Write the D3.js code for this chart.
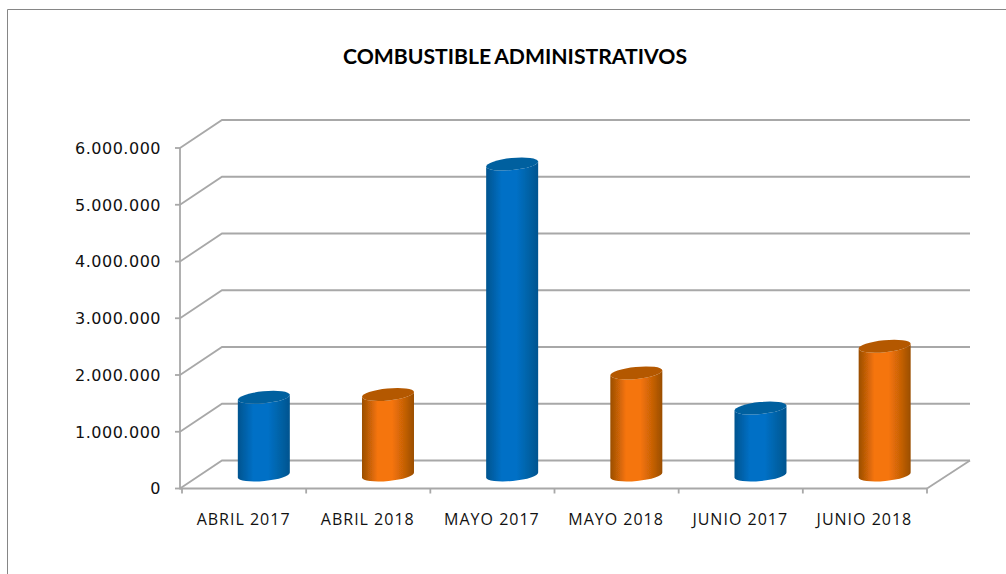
<!DOCTYPE html>
<html><head><meta charset="utf-8">
<script src="https://cdn.jsdelivr.net/npm/d3@7/dist/d3.min.js"></script>
<style>html,body{margin:0;padding:0;background:#fff}svg{display:block}</style></head>
<body><svg id="c" width="1006" height="574"></svg>
<script>
const categories = ["ABRIL 2017","ABRIL 2018","MAYO 2017","MAYO 2018","JUNIO 2017","JUNIO 2018"];
const values = [1370000,1420000,5480000,1800000,1180000,2270000];
const seriesKeys = ["blue","orange","blue","orange","blue","orange"];
const yTicks = [0,1000000,2000000,3000000,4000000,5000000,6000000];
const yTickLabels = ["0","1.000.000","2.000.000","3.000.000","4.000.000","5.000.000","6.000.000"];
const titleText = "COMBUSTIBLE ADMINISTRATIVOS";

const W = 1006, H = 574;
const svg = d3.select("#c");
const x = d3.scaleBand().domain(categories).range([182, 927]);
const y = d3.scaleLinear().domain([0, 6000000]).range([488.5, 148]);
const depthX = 42, depthY = -28;
const midX = depthX * 0.47, midY = depthY * 0.48;
const grid = "#a8a8a8";

const defs = svg.append("defs");
const palette = {
  blue: {edge:"#01548f", mid:"#0070c6", near:"#0163a8", top:"#01609f"},
  orange: {edge:"#9a4e05", mid:"#f57408", near:"#c96206", top:"#b45805"}
};
Object.entries(palette).forEach(([k,c]) => {
  const g = defs.append("linearGradient").attr("id","g-"+k).attr("x1",0).attr("x2",1).attr("y1",0).attr("y2",0);
  [[0,c.edge],[0.3,c.mid],[0.58,c.mid],[0.8,c.near],[1,c.edge]]
    .forEach(([o,col]) => g.append("stop").attr("offset",o).attr("stop-color",col));
});
defs.append("filter").attr("id","soft").append("feGaussianBlur").attr("stdDeviation",0.5);

svg.append("path").attr("d",`M7.5 ${H}V9.5H${W}`).attr("fill","none").attr("stroke","#868686").attr("stroke-width",1);

const plot = svg.append("g").attr("filter","url(#soft)");
yTicks.forEach(t => {
  const fy = y(t), by = fy + depthY;
  plot.append("path").attr("fill","none").attr("stroke",grid).attr("stroke-width",1.8)
    .attr("d",`M180 ${fy}L${180+depthX} ${by}H${927+depthX+1}`);
  plot.append("line").attr("x1",175).attr("x2",180).attr("y1",fy).attr("y2",fy).attr("stroke",grid).attr("stroke-width",1.8);
});
plot.append("line").attr("x1",927).attr("y1",y(0)).attr("x2",927+depthX+1).attr("y2",y(0)+depthY).attr("stroke",grid).attr("stroke-width",1.8);
plot.append("line").attr("x1",180).attr("x2",180).attr("y1",y(6000000)).attr("y2",y(0)+1).attr("stroke",grid).attr("stroke-width",1.8);
plot.append("line").attr("x1",180).attr("x2",927).attr("y1",y(0)).attr("y2",y(0)).attr("stroke",grid).attr("stroke-width",1.8);
const xTickPos = categories.map(c => x(c)).concat([x.range()[1]]);
xTickPos.forEach(p => plot.append("line").attr("x1",p).attr("x2",p).attr("y1",y(0)).attr("y2",y(0)+5).attr("stroke",grid).attr("stroke-width",1.8));

const halfW = 26, tilt = 2.6, ry = 6;
const R = Math.sqrt(halfW*halfW + tilt*tilt);
const rot = -Math.atan2(tilt, halfW) * 180 / Math.PI;
categories.forEach((c,i) => {
  const cx = x(c) + x.bandwidth()/2 + midX;
  const y0 = y(0) + midY, y1 = y(values[i]) + midY;
  const k = seriesKeys[i], col = palette[k];
  const body = `M${cx-halfW} ${y1+tilt}L${cx-halfW} ${y0+tilt}A${R} ${ry} ${rot} 0 0 ${cx+halfW} ${y0-tilt}L${cx+halfW} ${y1-tilt}A${R} ${ry} ${rot} 0 1 ${cx-halfW} ${y1+tilt}Z`;
  plot.append("path").attr("class","bar").attr("d",body).attr("fill",`url(#g-${k})`);
  plot.append("ellipse").attr("class","cap").attr("rx",R).attr("ry",ry)
    .attr("transform",`translate(${cx},${y1}) rotate(${rot})`).attr("fill",col.top);
});

yTicks.forEach((t,i) => svg.append("text").attr("x",161).attr("y",y(t)).attr("dy","0.36em")
  .attr("text-anchor","end").attr("font-family","'DejaVu Sans', sans-serif").attr("font-size",16).attr("letter-spacing",0.5).attr("fill","#111")
  .text(yTickLabels[i]));
categories.forEach(c => svg.append("text").attr("x",x(c)+x.bandwidth()/2-0.5).attr("y",525)
  .attr("text-anchor","middle").attr("font-family","'Open Sans', sans-serif").attr("font-size",16).attr("letter-spacing",1).attr("fill","#111").text(c));
svg.append("text").attr("x",515).attr("y",64).attr("text-anchor","middle")
  .attr("font-family","Lato, sans-serif").attr("font-weight",700).attr("font-size",21.2).attr("word-spacing",-1.5).attr("fill","#000").text(titleText);
</script></body></html>
